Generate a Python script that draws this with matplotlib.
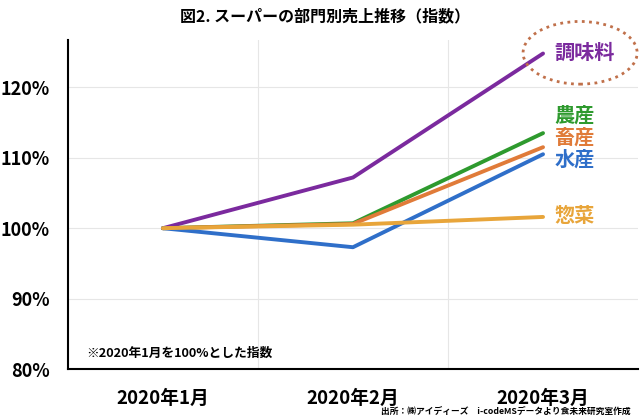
import matplotlib
matplotlib.use('Agg')
import matplotlib.pyplot as plt
from matplotlib.patches import Ellipse

plt.rcParams['font.family'] = ['Noto Sans CJK JP', 'DejaVu Sans']

# データ（2020年1月 = 100 とした指数）
months = ['2020年1月', '2020年2月', '2020年3月']
seasoning = [100.0, 107.2, 124.8]   # 調味料
agri = [100.0, 100.7, 113.5]        # 農産
livestock = [100.0, 100.6, 111.5]   # 畜産
fishery = [100.0, 97.3, 110.5]      # 水産
deli = [100.0, 100.5, 101.6]        # 惣菜
yticks = [80, 90, 100, 110, 120]

series = [
    ('調味料', seasoning, '#7B2A9E'),
    ('農産', agri, '#2E9A2E'),
    ('畜産', livestock, '#E07B39'),
    ('水産', fishery, '#2F6FC9'),
    ('惣菜', deli, '#E8A53A'),
]
label_y = {'調味料': 125.0, '農産': 116.0, '畜産': 112.9, '水産': 109.8, '惣菜': 101.8}

fig = plt.figure(figsize=(6.4, 4.18), dpi=100)
ax = fig.add_axes([0.106, 0.117, 0.891, 0.787])

x = list(range(len(months)))
for name, vals, col in series:
    ax.plot(x, vals, color=col, lw=2.8, solid_capstyle='round', zorder=3)
    ax.text(2.06, label_y[name], name, color=col, fontsize=14.5, fontweight='bold',
            va='center', ha='left')

# 調味料を囲む点線の楕円
ell = Ellipse((2.195, 124.9), 0.6, 8.9, fill=False, ec='#C0704A', ls=(0, (1, 1.6)), lw=2,
              clip_on=False, zorder=4)
ax.add_patch(ell)

ax.set_xlim(-0.5, 2.5)
ax.set_ylim(80, 126.7)
ax.set_xticks(x)
ax.set_xticklabels(months, fontsize=13.5, fontweight='bold')
ax.set_yticks(yticks)
ax.set_yticklabels([f'{v}%' for v in yticks], fontsize=13, fontweight='bold')
ax.tick_params(axis='y', length=0, pad=13)
ax.tick_params(axis='x', length=0, pad=14)

ax.set_xticks([0.5, 1.5], minor=True)
ax.tick_params(axis='x', which='minor', length=0)
ax.grid(True, which='major', axis='y', color='#E6E6E6', lw=0.8)
ax.grid(True, which='minor', axis='x', color='#E6E6E6', lw=0.8)
ax.set_axisbelow(True)

for s in ['top', 'right']:
    ax.spines[s].set_visible(False)
ax.spines['left'].set_linewidth(1.5)
ax.spines['bottom'].set_linewidth(1.5)

fig.text(0.508, 0.962, '図2. スーパーの部門別売上推移（指数）', ha='center', va='center',
         fontsize=11.5, fontweight='bold')
ax.text(0.033, 0.049, '※2020年1月を100%とした指数', transform=ax.transAxes,
        fontsize=9.2, fontweight='bold', va='center')
fig.text(0.985, 0.004, '出所：㈱アイディーズ　i-codeMSデータより食未来研究室作成',
         ha='right', va='bottom', fontsize=6.3, fontweight='bold')

fig.savefig('out.png', dpi=100)
